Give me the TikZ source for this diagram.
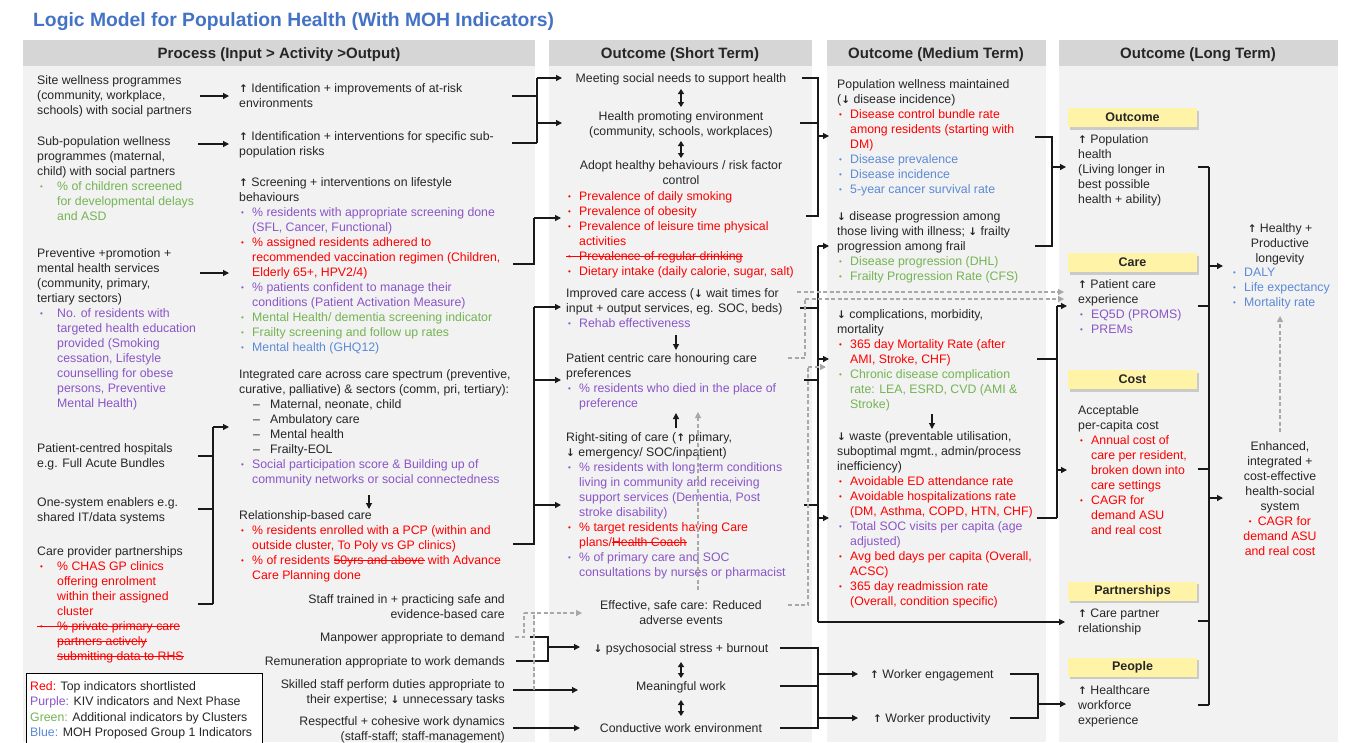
\documentclass[tikz,border=0pt]{standalone}
\usepackage{fontspec}
\setmainfont{Liberation Sans}
\newfontfamily\arrfont{DejaVu Sans}
\usetikzlibrary{arrows.meta,shadows}

\definecolor{cred}{HTML}{FF0000}
\definecolor{cpur}{HTML}{8A55C8}
\definecolor{cgrn}{HTML}{74B452}
\definecolor{cblu}{HTML}{5B8AD6}
\definecolor{ctitle}{HTML}{4472C4}
\definecolor{colbg}{HTML}{F2F2F2}
\definecolor{headbg}{HTML}{D6D6D6}
\definecolor{ybox}{HTML}{FFF3A8}
\definecolor{dgray}{HTML}{A8A8A8}

% bullets, indents, arrows, strike-through
\newcommand{\bulA}{\makebox[13pt][l]{\hspace{2pt}\raisebox{1pt}{\fontsize{8}{8}\selectfont •}}}
\newcommand{\bulB}{\makebox[20pt][l]{\hspace{3pt}\raisebox{1pt}{\fontsize{8}{8}\selectfont •}}}
\newcommand{\indA}{\hspace*{13pt}}
\newcommand{\indB}{\hspace*{20pt}}
\newcommand{\dsh}{\hspace*{14pt}\makebox[17pt][l]{–}}
\newcommand{\up}{{\arrfont\bfseries\fontsize{10.5}{10}\selectfont ↑}}
\newcommand{\dn}{{\arrfont\bfseries\fontsize{10.5}{10}\selectfont ↓}}
\newsavebox{\strkbox}
\newcommand{\strk}[1]{\sbox{\strkbox}{#1}\rlap{\rule[3.8pt]{\wd\strkbox}{0.7pt}}\usebox{\strkbox}}
\newcommand{\cR}[1]{\textcolor{cred}{#1}}
\newcommand{\cP}[1]{\textcolor{cpur}{#1}}
\newcommand{\cG}[1]{\textcolor{cgrn}{#1}}
\newcommand{\cB}[1]{\textcolor{cblu}{#1}}

\begin{document}
\begin{tikzpicture}[x=1pt,y=-1pt,
    txt/.style={anchor=north west,inner sep=0pt,align=left,text=black!85,font=\fontsize{12.3}{15}\selectfont},
    ctxt/.style={txt,anchor=north,align=center},
    rtxt/.style={txt,anchor=north east,align=right},
    colhead/.style={inner sep=0pt,text=black!85,font=\fontsize{15}{18}\selectfont\bfseries},
    ytag/.style={fill=ybox,minimum width=129pt,minimum height=19pt,inner sep=0pt,text=black!85,
      font=\fontsize{12.5}{15}\selectfont\bfseries,
      drop shadow={shadow xshift=2pt,shadow yshift=-2.5pt,opacity=0.35}},
    ln/.style={line width=1.2pt,black!90},
    arr/.style={ln,-{Triangle[length=6pt,width=6pt]}},
    biarr/.style={ln,{Triangle[length=5pt,width=6pt]}-{Triangle[length=5pt,width=6pt]}},
    gln/.style={line width=1.1pt,draw=dgray,dash pattern=on 4pt off 2.5pt},
    garr/.style={gln,-{Triangle[length=6pt,width=6pt,fill=dgray]}}]
  \useasboundingbox (0,0) rectangle (1348,742);

  % --- title
  \node[anchor=west,inner sep=0pt,text=ctitle,font=\fontsize{19.3}{22}\selectfont\bfseries] (title) at (33,22)
    {Logic Model for Population Health (With MOH Indicators)};

  % --- columns
  \fill[colbg] (23,66) rectangle (535,742);
  \fill[headbg] (23,40) rectangle (535,66);
  \fill[colbg] (549,66) rectangle (812,742);
  \fill[headbg] (549,40) rectangle (812,66);
  \fill[colbg] (827,66) rectangle (1046,742);
  \fill[headbg] (827,40) rectangle (1046,66);
  \fill[colbg] (1059,66) rectangle (1338,742);
  \fill[headbg] (1059,40) rectangle (1338,66);
  \node[colhead] (hProc) at (279,54.5) {Process (Input > Activity >Output)};
  \node[colhead] (hShort) at (680,54.5) {Outcome (Short Term)};
  \node[colhead] (hMed) at (936,54.5) {Outcome (Medium Term)};
  \node[colhead] (hLong) at (1198,54.5) {Outcome (Long Term)};

  % --- process: inputs
  \node[txt] (siteW) at (37,75) {Site wellness programmes\\(community, workplace,\\schools) with social partners};
  \node[txt] (subPop) at (37,136) {Sub-population wellness\\programmes (maternal,\\child) with social partners\\
    \cG{\bulB\% of children screened}\\\cG{\indB for developmental delays}\\\cG{\indB and ASD}};
  \node[txt] (prevent) at (37,248) {Preventive +promotion +\\mental health services\\(community, primary,\\tertiary sectors)\\
    \cP{\bulB No. of residents with}\\\cP{\indB targeted health education}\\\cP{\indB provided (Smoking}\\
    \cP{\indB cessation, Lifestyle}\\\cP{\indB counselling for obese}\\\cP{\indB persons, Preventive}\\\cP{\indB Mental Health)}};
  \node[txt] (hospital) at (37,443) {Patient-centred hospitals\\e.g. Full Acute Bundles};
  \node[txt] (oneSys) at (37,497) {One-system enablers e.g.\\shared IT/data systems};
  \node[txt] (carePP) at (37,546) {Care provider partnerships\\
    \cR{\bulB\% CHAS GP clinics}\\\cR{\indB offering enrolment}\\\cR{\indB within their assigned}\\\cR{\indB cluster}\\
    \cR{\strk{\bulB\% private primary care}}\\\cR{\indB\strk{partners actively}}\\\cR{\indB\strk{submitting data to RHS}}};

  % --- process: activities
  \node[txt] (ident1) at (239,83) {\up{} Identification + improvements of at-risk\\environments};
  \node[txt] (ident2) at (239,131) {\up{} Identification + interventions for specific sub-\\population risks};
  \node[txt] (screen) at (239,177) {\up{} Screening + interventions on lifestyle\\behaviours\\
    \cP{\bulA\% residents with appropriate screening done}\\\cP{\indA(SFL, Cancer, Functional)}\\
    \cR{\bulA\% assigned residents adhered to}\\\cR{\indA recommended vaccination regimen (Children,}\\\cR{\indA Elderly 65+, HPV2/4)}\\
    \cP{\bulA\% patients confident to manage their}\\\cP{\indA conditions (Patient Activation Measure)}\\
    \cG{\bulA Mental Health/ dementia screening indicator}\\\cG{\bulA Frailty screening and follow up rates}\\
    \cB{\bulA Mental health (GHQ12)}};
  \node[txt] (integ) at (239,369) {Integrated care across care spectrum (preventive,\\curative, palliative) \& sectors (comm, pri, tertiary):\\
    \dsh Maternal, neonate, child\\\dsh Ambulatory care\\\dsh Mental health\\\dsh Frailty-EOL\\
    \cP{\bulA Social participation score \& Building up of}\\\cP{\indA community networks or social connectedness}};
  \node[txt] (relat) at (239,510) {Relationship-based care\\
    \cR{\bulA\% residents enrolled with a PCP (within and}\\\cR{\indA outside cluster, To Poly vs GP clinics)}\\
    \cR{\bulA\% of residents \strk{50yrs and above} with Advance}\\\cR{\indA Care Planning done}};

  % --- process: workforce
  \node[rtxt] (staff) at (505,594) {Staff trained in + practicing safe and\\evidence-based care};
  \node[rtxt] (manpower) at (505,632) {Manpower appropriate to demand};
  \node[rtxt] (remun) at (505,656) {Remuneration appropriate to work demands};
  \node[rtxt] (skilled) at (505,679) {Skilled staff perform duties appropriate to\\their expertise; \dn{} unnecessary tasks};
  \node[rtxt] (respect) at (505,716) {Respectful + cohesive work dynamics\\(staff-staff; staff-management)};

  % --- legend
  \draw[line width=0.8pt,fill=white] (26,673) rectangle (262,746);
  \node[txt,font=\fontsize{12.3}{15.5}\selectfont] (legend) at (30,681) {\cR{Red:} Top indicators shortlisted\\
    \cP{Purple:} KIV indicators and Next Phase\\\cG{Green:} Additional indicators by Clusters\\\cB{Blue:} MOH Proposed Group 1 Indicators};

  % --- short term
  \node[ctxt] (meet) at (681,73) {Meeting social needs to support health};
  \node[ctxt] (hpe) at (681,111) {Health promoting environment\\(community, schools, workplaces)};
  \node[ctxt] (adopt) at (681,160) {Adopt healthy behaviours / risk factor\\control};
  \node[txt] (adoptInd) at (566,191) {\cR{\bulA Prevalence of daily smoking}\\\cR{\bulA Prevalence of obesity}\\
    \cR{\bulA Prevalence of leisure time physical}\\\cR{\indA activities}\\
    \cR{\strk{\bulA Prevalence of regular drinking}}\\\cR{\bulA Dietary intake (daily calorie, sugar, salt)}};
  \node[txt] (access) at (566,288) {Improved care access (\dn{} wait times for\\input + output services, eg. SOC, beds)\\
    \cP{\bulA Rehab effectiveness}};
  \node[txt] (centric) at (566,353) {Patient centric care honouring care\\preferences\\
    \cP{\bulA\% residents who died in the place of}\\\cP{\indA preference}};
  \node[txt] (rightSite) at (566,432) {Right-siting of care (\up{} primary,\\\dn{} emergency/ SOC/inpatient)\\
    \cP{\bulA\% residents with long term conditions}\\\cP{\indA living in community and receiving}\\
    \cP{\indA support services (Dementia, Post}\\\cP{\indA stroke disability)}\\
    \cR{\bulA\% target residents having Care}\\\cR{\indA plans/\strk{Health Coach}}\\
    \cP{\bulA\% of primary care and SOC}\\\cP{\indA consultations by nurses or pharmacist}};
  \node[ctxt] (safe) at (681,600) {Effective, safe care: Reduced\\adverse events};
  \node[ctxt] (stress) at (681,643) {\dn{} psychosocial stress + burnout};
  \node[ctxt] (meaning) at (681,681) {Meaningful work};
  \node[ctxt] (conduct) at (681,723) {Conductive work environment};

  % --- medium term
  \node[txt] (popWell) at (837,79) {Population wellness maintained\\(\dn{}\ disease incidence)\\
    \cR{\bulA Disease control bundle rate}\\\cR{\indA among residents (starting with}\\\cR{\indA DM)}\\
    \cB{\bulA Disease prevalence}\\\cB{\bulA Disease incidence}\\\cB{\bulA 5-year cancer survival rate}};
  \node[txt] (disProg) at (837,211) {\dn{} disease progression among\\those living with illness; \dn{} frailty\\progression among frail\\
    \cG{\bulA Disease progression (DHL)}\\\cG{\bulA Frailty Progression Rate (CFS)}};
  \node[txt] (compl) at (837,309) {\dn{} complications, morbidity,\\mortality\\
    \cR{\bulA 365 day Mortality Rate (after}\\\cR{\indA AMI, Stroke, CHF)}\\
    \cG{\bulA Chronic disease complication}\\\cG{\indA rate: LEA, ESRD, CVD (AMI \&}\\\cG{\indA Stroke)}};
  \node[txt] (waste) at (837,431) {\dn{} waste (preventable utilisation,\\suboptimal mgmt., admin/process\\inefficiency)\\
    \cR{\bulA Avoidable ED attendance rate}\\\cR{\bulA Avoidable hospitalizations rate}\\\cR{\indA(DM, Asthma, COPD, HTN, CHF)}\\
    \cP{\bulA Total SOC visits per capita (age}\\\cP{\indA adjusted)}\\
    \cR{\bulA Avg bed days per capita (Overall,}\\\cR{\indA ACSC)}\\
    \cR{\bulA 365 day readmission rate}\\\cR{\indA(Overall, condition specific)}};
  \node[txt] (engage) at (870,669) {\up{} Worker engagement};
  \node[txt] (product) at (873,713) {\up{} Worker productivity};

  % --- long term
  \node[ytag] (tOutcome) at (1132.5,117.5) {Outcome};
  \node[ytag] (tCare) at (1132.5,262.5) {Care};
  \node[ytag] (tCost) at (1132.5,379.5) {Cost};
  \node[ytag] (tPartner) at (1132.5,591) {Partnerships};
  \node[ytag] (tPeople) at (1132.5,667) {People};
  \node[txt] (popHealth) at (1078,134) {\up{} Population\\health\\(Living longer in\\best possible\\health + ability)};
  \node[txt] (careExp) at (1078,279) {\up{} Patient care\\experience\\\cP{\bulA EQ5D (PROMS)}\\\cP{\bulA PREMs}};
  \node[txt] (costTxt) at (1078,405) {Acceptable\\per-capita cost\\
    \cR{\bulA Annual cost of}\\\cR{\indA care per resident,}\\\cR{\indA broken down into}\\\cR{\indA care settings}\\
    \cR{\bulA CAGR for}\\\cR{\indA demand ASU}\\\cR{\indA and real cost}};
  \node[txt] (partner) at (1078,609) {\up{} Care partner\\relationship};
  \node[txt] (workforce) at (1078,685) {\up{} Healthcare\\workforce\\experience};
  \node[ctxt] (healthy) at (1280,223) {\up{} Healthy +\\Productive\\longevity};
  \node[txt] (healthyInd) at (1231,268) {\cB{\bulA DALY}\\\cB{\bulA Life expectancy}\\\cB{\bulA Mortality rate}};
  \node[ctxt] (system) at (1280,441) {Enhanced,\\integrated +\\cost-effective\\health-social\\system\\
    \cR{\raisebox{1pt}{\fontsize{8}{8}\selectfont •}\hspace{6pt}CAGR for}\\\cR{demand ASU}\\\cR{and real cost}};

  % --- process connectors
  \draw[arr] (200,96) -- (229,96);
  \draw[arr] (198,144) -- (229,144);
  \draw[arr] (200,273) -- (229,273);
  \draw[ln] (198,456) -- (213,456) (198,509) -- (213,509) (198,604) -- (213,604) (213,427) -- (213,604);
  \draw[arr] (213,427) -- (229,427);
  \draw[arr] (369,495) -- (369,509);

  % --- process -> short term
  \draw[ln] (512,96) -- (537,96) (512,143) -- (537,143) (537,78) -- (537,143);
  \draw[arr] (537,78) -- (562,78);
  \draw[arr] (537,123) -- (562,123);
  \draw[ln] (513,264) -- (534,264) -- (534,218);
  \draw[arr] (534,218) -- (561,218);
  \draw[ln] (513,544) -- (534,544) -- (534,307);
  \draw[arr] (534,307) -- (561,307);
  \draw[arr] (534,380) -- (561,380);
  \draw[arr] (534,505) -- (561,505);
  \draw[ln] (530,637) -- (548,637) -- (548,661) -- (516,661);
  \draw[arr] (548,647) -- (580,647);
  \draw[arr] (513,690) -- (578,690);
  \draw[arr] (513,728) -- (580,728);
  \draw[gln] (515,637) -- (524,637) -- (524,613) (534,690) -- (534,613);
  \draw[garr] (524,613) -- (582,613);

  % --- short term links
  \draw[biarr] (681,89) -- (681,107);
  \draw[biarr] (681,141) -- (681,158);
  \draw[arr] (676,335) -- (676,350);
  \draw[arr] (676,428) -- (676,413);
  \draw[biarr] (681,662) -- (681,678);
  \draw[biarr] (681,700) -- (681,716);
  \draw[garr] (698,590) -- (698,412);

  % --- short term -> medium term
  \draw[ln] (802,78) -- (818,78) -- (818,216) -- (806,216) (800,123) -- (818,123);
  \draw[arr] (818,136) -- (829,136);
  \draw[ln] (800,308) -- (818,308) (804,380) -- (818,380) (804,505) -- (818,505) (818,246) -- (818,622);
  \draw[arr] (818,246) -- (829,246);
  \draw[arr] (818,359) -- (829,359);
  \draw[arr] (818,518) -- (829,518);
  \draw[arr] (818,622) -- (1065,622);
  \draw[ln] (780,648) -- (818,648) -- (818,728) -- (780,728) (780,686) -- (818,686);
  \draw[arr] (818,674) -- (858,674);
  \draw[arr] (818,718) -- (858,718);
  \draw[gln] (788,358) -- (805,358) -- (805,299);
  \draw[gln] (788,605) -- (808,605) -- (808,367);
  \draw[garr] (808,367) -- (826,367);
  \draw[garr] (797,292) -- (1064,292);
  \draw[garr] (805,299) -- (1064,299);

  % --- medium term
  \draw[arr] (932,414) -- (932,429);
  \draw[ln] (1035,137) -- (1052,137) -- (1052,246) -- (1035,246);
  \draw[arr] (1052,167) -- (1066,167);
  \draw[ln] (1037,359) -- (1057,359) (1037,518) -- (1057,518) (1057,306) -- (1057,518);
  \draw[arr] (1057,306) -- (1067,306);
  \draw[arr] (1057,470) -- (1067,470);
  \draw[ln] (1010,674) -- (1038,674) -- (1038,718) -- (1010,718);
  \draw[arr] (1038,704) -- (1066,704);

  % --- long term
  \draw[ln] (1198,167) -- (1209,167) (1198,306) -- (1209,306) (1198,469) -- (1209,469)
    (1198,621) -- (1209,621) (1198,705) -- (1209,705) (1209,167) -- (1209,705);
  \draw[arr] (1209,266) -- (1223,266);
  \draw[arr] (1209,498) -- (1223,498);
  \draw[garr] (1280,432) -- (1280,316);
\end{tikzpicture}
\end{document}
